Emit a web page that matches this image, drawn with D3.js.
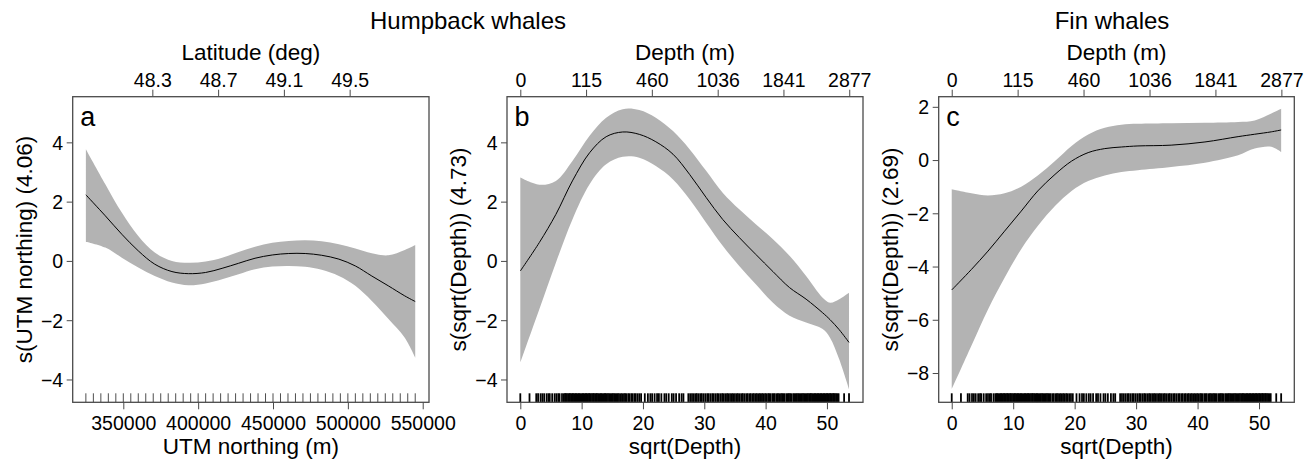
<!DOCTYPE html>
<html><head><meta charset="utf-8">
<script src="https://cdn.jsdelivr.net/npm/d3@7"></script>
<style>
html,body{margin:0;padding:0;background:#fff;}
svg{display:block;font-family:"Liberation Sans",Arial,Helvetica,sans-serif;}
</style></head><body>
<svg id="chart" width="1310" height="461"></svg>
<script>
// ---------- Data ----------
// Panel a: humpback whales, UTM northing smooth
const northingX = [325000, 338000, 349000, 360000, 371000, 382500, 393500, 405000, 416000, 427000, 438000,
                   449500, 460500, 471500, 482500, 494000, 505000, 516000, 527000, 538000, 545000];
const northingFit = [2.23, 1.52, 0.90, 0.34, -0.11, -0.36, -0.43, -0.39, -0.25, -0.08, 0.09,
                     0.20, 0.25, 0.25, 0.19, 0.06, -0.17, -0.51, -0.84, -1.18, -1.37];
const northingUpper = [3.77, 2.59, 1.63, 0.84, 0.28, 0.00, -0.06, -0.02, 0.11, 0.30, 0.48,
                       0.61, 0.67, 0.70, 0.66, 0.56, 0.42, 0.26, 0.19, 0.37, 0.54];
const northingLower = [0.65, 0.45, 0.11, -0.22, -0.51, -0.73, -0.82, -0.76, -0.62, -0.45, -0.28,
                       -0.19, -0.17, -0.20, -0.30, -0.51, -0.84, -1.35, -1.95, -2.59, -3.26];
const northingRug = [325000, 330000, 335000, 340000, 345000, 350000, 355000, 360000, 365000, 370000,
                     375000, 380000, 385000, 390000, 395000, 400000, 405000, 410000, 415000, 420000,
                     425000, 430000, 435000, 440000, 445000, 450000, 455000, 460000, 465000, 470000,
                     475000, 480000, 485000, 490000, 495000, 500000, 505000, 510000, 515000, 520000,
                     525000, 530000, 535000, 540000, 545000];
const northingTicks = [350000, 400000, 450000, 500000, 550000];
const latTicks = [48.3, 48.7, 49.1, 49.5];
const latToNorthing = {lat: [48.3, 49.5], northing: [369400, 501200]};

// Panel b: humpback whales, sqrt(Depth) smooth
const humpDepthX = [0, 3.1, 5.8, 8.5, 11.3, 14.0, 16.7, 19.4, 22.1, 24.9, 27.6, 30.3, 33.0, 35.7,
                    38.4, 41.2, 43.9, 46.6, 49.3, 50.5, 52.0, 53.6];
const humpDepthFit = [-0.34, 0.62, 1.57, 2.70, 3.65, 4.19, 4.35, 4.27, 4.02, 3.60, 2.92, 2.14, 1.40, 0.79,
                      0.22, -0.36, -0.90, -1.29, -1.75, -1.98, -2.32, -2.75];
const humpDepthUpper = [2.81, 2.57, 2.70, 3.37, 4.22, 4.83, 5.12, 5.09, 4.83, 4.38, 3.77, 3.04, 2.30, 1.74,
                        1.24, 0.73, 0.17, -0.51, -1.24, -1.41, -1.29, -1.07];
const humpDepthLower = [-3.43, -1.63, -0.06, 1.40, 2.59, 3.26, 3.51, 3.48, 3.20, 2.75, 2.08, 1.29, 0.51, -0.17,
                        -0.79, -1.41, -1.85, -2.08, -2.30, -2.59, -3.32, -4.33];

// Panel c: fin whales, sqrt(Depth) smooth
const finDepthX = [0, 3.2, 5.9, 8.6, 11.3, 14.0, 16.8, 19.5, 22.2, 24.9, 27.6, 30.3, 35.7, 41.2, 46.6, 49.3, 52.0, 53.6];
const finDepthFit = [-4.88, -4.11, -3.42, -2.67, -1.92, -1.16, -0.54, -0.04, 0.28, 0.43, 0.49, 0.53, 0.56, 0.68, 0.88, 0.97, 1.06, 1.13];
const finDepthUpper = [-1.10, -1.25, -1.33, -1.25, -1.00, -0.58, -0.04, 0.53, 0.96, 1.21, 1.33, 1.36, 1.38, 1.40, 1.43, 1.49, 1.75, 1.93];
const finDepthLower = [-8.61, -6.98, -5.61, -4.42, -3.35, -2.48, -1.73, -1.16, -0.79, -0.58, -0.45, -0.38, -0.26, -0.10, 0.18, 0.43, 0.50, 0.30];

const depthRug = [0, 1.5, 2.6, 2.9, 3.3, 3.6, 3.9, 4.3, 4.6, 4.8, 5.2, 5.6, 5.9, 6.2, 6.4, 6.8,
  7.1, 7.3, 7.4, 7.6, 7.8, 8.0, 8.1, 8.3, 8.5, 8.6, 8.8, 9.0, 9.1, 9.3, 9.5, 9.6, 9.8, 10.0, 10.2, 10.3,
  10.5, 10.7, 10.8, 11.0, 11.2, 11.3, 11.5, 11.7, 11.9, 12.0, 12.2, 12.4, 12.5, 12.7, 12.9, 13.1, 13.2,
  13.4, 13.6, 13.8, 13.9, 14.1, 14.3, 14.5, 14.7, 14.9, 15.1, 15.3, 15.5, 15.7, 15.9, 16.1, 16.4, 16.6,
  16.9, 17.1, 17.3, 17.6, 17.8, 18.1, 18.3, 18.6, 18.8, 19.1, 19.4, 19.7,
  20.3, 20.8, 21.2, 21.5, 21.9, 22.3, 22.6, 23.0, 23.5, 23.8, 24.2, 24.7, 25.0, 25.4, 25.9, 26.3, 26.6,
  27.4, 27.7, 28.0, 28.3, 28.6, 28.8, 29.1, 29.4, 29.6, 29.9, 30.2, 30.5, 30.7, 31.0, 31.3, 31.5, 31.8,
  32.1, 32.3, 32.6, 32.9, 33.1, 33.4, 33.7, 33.9, 34.2, 34.5, 34.7, 35.0, 35.3, 35.5, 35.8, 36.1, 36.3,
  36.6, 36.9, 37.1, 37.4, 37.6, 37.9, 38.1, 38.4, 38.6, 38.9, 39.1, 39.4, 39.6, 39.9, 40.1, 40.4, 40.6,
  40.8, 41.1, 41.3, 41.5, 41.8, 42.0, 42.2, 42.5, 42.7, 42.9, 43.1, 43.4, 43.6, 43.8, 44.0, 44.2, 44.5,
  44.7, 44.9, 45.1, 45.3, 45.5, 45.7, 45.9, 46.1, 46.3, 46.5, 46.7, 46.9, 47.1, 47.3, 47.4, 47.6, 47.8,
  48.0, 48.1, 48.3, 48.5, 48.6, 48.8, 49.0, 49.1, 49.3, 49.5, 49.6, 49.8, 50.0, 50.1, 50.3, 50.5, 50.6,
  50.8, 51.0, 51.1, 51.3, 51.5, 51.7, 51.9, 52.8, 53.6];
const sqrtTicks = [0, 10, 20, 30, 40, 50];
const depthTicks = [0, 115, 460, 1036, 1841, 2877];
const yTicksAB = [-4, -2, 0, 2, 4];
const yTicksC = [-8, -6, -4, -2, 0, 2];

// ---------- Drawing ----------
const svg = d3.select("#chart");
const TOP = 96.7, BOTTOM = 402.3;
const minus = s => String(s).replace("-", "\u2212");
const BOX = "#4a4a4a";

function drawPanel(cfg) {
  const x = d3.scaleLinear().domain(cfg.xDomain).range([cfg.left, cfg.right]);
  const y = d3.scaleLinear().domain(cfg.yDomain).range([BOTTOM, TOP]);
  const g = svg.append("g");
  const pts = cfg.xs.map((v, i) => ({x: v, fit: cfg.fit[i], lo: cfg.lo[i], hi: cfg.hi[i]}));
  const curve = d3.curveCatmullRom.alpha(0.5);

  g.append("path").datum(pts)
    .attr("d", d3.area().x(d => x(d.x)).y0(d => y(d.lo)).y1(d => y(d.hi)).curve(curve))
    .attr("fill", "#b3b3b3");
  g.append("path").datum(pts)
    .attr("d", d3.line().x(d => x(d.x)).y(d => y(d.fit)).curve(curve))
    .attr("fill", "none").attr("stroke", "#000").attr("stroke-width", 1);

  g.append("g").selectAll("line").data(cfg.rug).join("line")
    .attr("x1", d => x(d)).attr("x2", d => x(d))
    .attr("y1", BOTTOM).attr("y2", BOTTOM - 9)
    .attr("stroke", "#000").attr("stroke-width", cfg.rugWidth);

  // bottom axis
  const bx = g.append("g").attr("transform", `translate(0,${BOTTOM})`)
    .call(d3.axisBottom(x).tickValues(cfg.xTicks).tickSize(7).tickFormat(d3.format("d")));
  // top axis
  const tx = g.append("g").attr("transform", `translate(0,${TOP})`)
    .call(d3.axisTop(x).tickValues(cfg.topTicks.map(cfg.topToX)).tickSize(7)
      .tickFormat((d, i) => cfg.topTicks[i]));
  // left axis
  const ly = g.append("g").attr("transform", `translate(${cfg.left},0)`)
    .call(d3.axisLeft(y).tickValues(cfg.yTicks).tickSize(6).tickFormat(d => minus(d)));

  [bx, tx, ly].forEach(a => {
    a.select(".domain").remove();
    a.selectAll(".tick line").attr("stroke", BOX).attr("stroke-width", 1);
    a.selectAll(".tick text").attr("fill", "#000").style("font-size", "19.5px").attr("font-family", null);
  });
  bx.selectAll(".tick text").attr("y", 28).attr("dy", 0);
  tx.selectAll(".tick text").attr("y", -10).attr("dy", 0);
  ly.selectAll(".tick text").attr("x", -9.5).attr("dy", "0.35em");

  g.append("rect").attr("x", cfg.left).attr("y", TOP)
    .attr("width", cfg.right - cfg.left).attr("height", BOTTOM - TOP)
    .attr("fill", "none").attr("stroke", BOX).attr("stroke-width", 1.3);

  const cx = (cfg.left + cfg.right) / 2;
  g.append("text").attr("x", cfg.left + 7.5).attr("y", 125.5).text(cfg.letter)
    .style("font-size", "27px");
  g.append("text").attr("x", cx).attr("y", 454).attr("text-anchor", "middle")
    .style("font-size", "22.5px").text(cfg.xLabel);
  g.append("text").attr("x", cx).attr("y", 60).attr("text-anchor", "middle")
    .style("font-size", "22.5px").text(cfg.topLabel);
  g.append("text").attr("transform", `translate(${cfg.left - 41},${(TOP + BOTTOM) / 2}) rotate(-90)`)
    .attr("text-anchor", "middle").style("font-size", "22.5px").text(cfg.yLabel);
}

const latScale = d3.scaleLinear().domain(latToNorthing.lat).range(latToNorthing.northing);

drawPanel({
  left: 72.7, right: 429, xDomain: [316200, 554200], yDomain: [-4.77, 5.54],
  xs: northingX, fit: northingFit, lo: northingLower, hi: northingUpper, rug: northingRug, rugWidth: 0.7,
  xTicks: northingTicks, topTicks: latTicks, topToX: v => latScale(v), yTicks: yTicksAB,
  letter: "a", xLabel: "UTM northing (m)", topLabel: "Latitude (deg)", yLabel: "s(UTM northing) (4.06)"
});
drawPanel({
  left: 507, right: 863, xDomain: [-2.17, 55.88], yDomain: [-4.77, 5.54],
  xs: humpDepthX, fit: humpDepthFit, lo: humpDepthLower, hi: humpDepthUpper, rug: depthRug, rugWidth: 1.8,
  xTicks: sqrtTicks, topTicks: depthTicks, topToX: v => Math.sqrt(v), yTicks: yTicksAB,
  letter: "b", xLabel: "sqrt(Depth)", topLabel: "Depth (m)", yLabel: "s(sqrt(Depth)) (4.73)"
});
drawPanel({
  left: 938.7, right: 1294.3, xDomain: [-2.12, 55.74], yDomain: [-9.10, 2.38],
  xs: finDepthX, fit: finDepthFit, lo: finDepthLower, hi: finDepthUpper, rug: depthRug, rugWidth: 1.8,
  xTicks: sqrtTicks, topTicks: depthTicks, topToX: v => Math.sqrt(v), yTicks: yTicksC,
  letter: "c", xLabel: "sqrt(Depth)", topLabel: "Depth (m)", yLabel: "s(sqrt(Depth)) (2.69)"
});

svg.append("text").attr("x", 468).attr("y", 28.5).attr("text-anchor", "middle")
  .style("font-size", "24px").text("Humpback whales");
svg.append("text").attr("x", 1112).attr("y", 28.5).attr("text-anchor", "middle")
  .style("font-size", "24px").text("Fin whales");
</script>
</body></html>
